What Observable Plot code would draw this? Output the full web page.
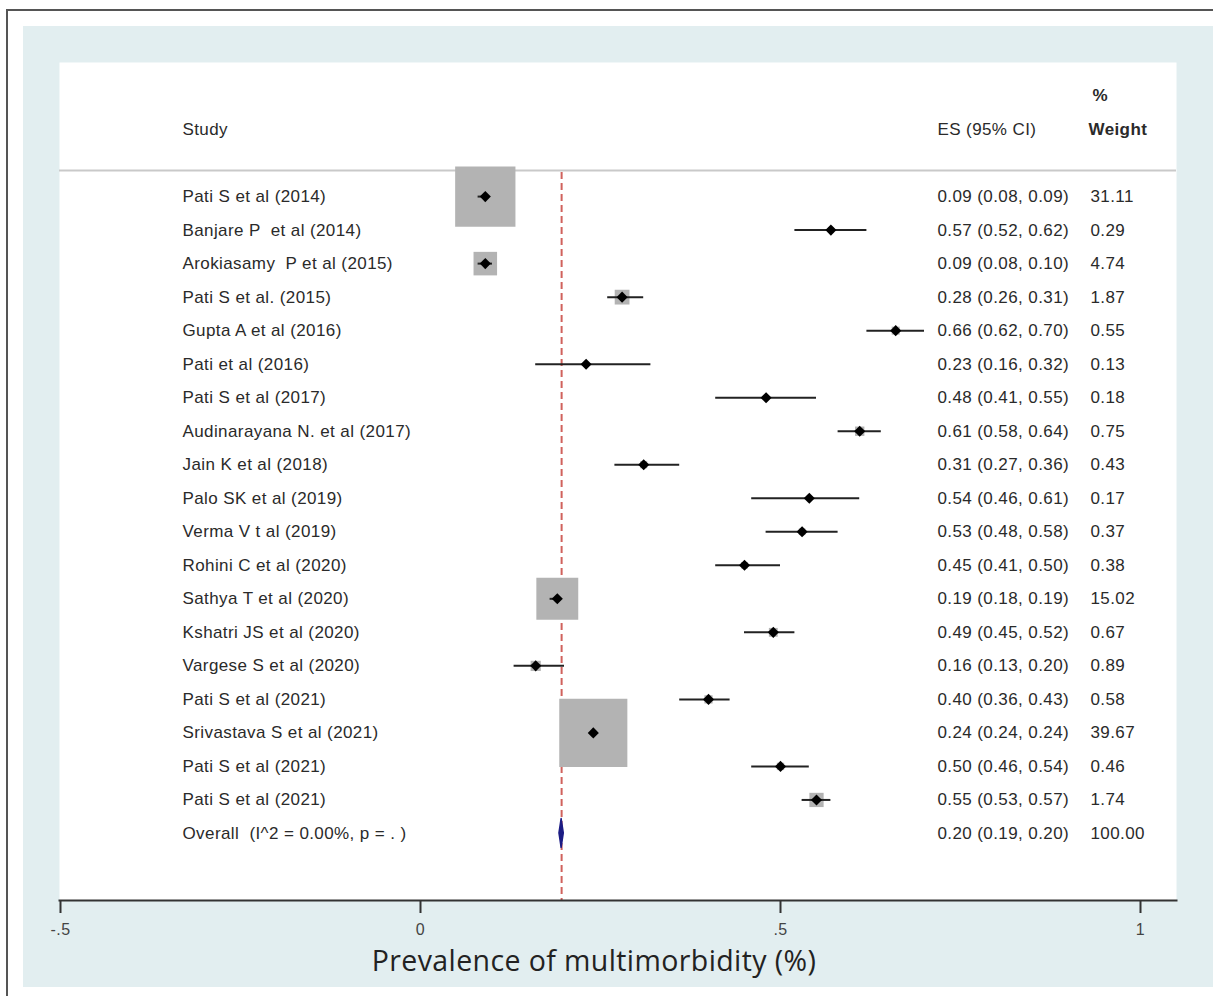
<!DOCTYPE html>
<html><head><meta charset="utf-8">
<script src="https://cdn.jsdelivr.net/npm/d3@7"></script>
<script src="https://cdn.jsdelivr.net/npm/@observablehq/plot@0.6"></script>
<style>
html,body{margin:0;padding:0;background:#fff;}
#wrap{position:relative;width:1213px;height:996px;overflow:hidden;}
#border{position:absolute;left:6px;top:9px;width:1220px;height:1000px;border-left:2px solid #555;border-top:2px solid #555;}
#panel{position:absolute;left:23px;top:26px;width:1190px;height:961px;background:#e2eef0;}
#chart{position:absolute;left:0;top:0;}
</style></head><body>
<div id="wrap"><div id="border"></div><div id="panel"></div><div id="chart"></div></div>
<script>
// ---- data ----
const studies = ["Pati S et al (2014)", "Banjare P  et al (2014)", "Arokiasamy  P et al (2015)", "Pati S et al. (2015)",
  "Gupta A et al (2016)", "Pati et al (2016)", "Pati S et al (2017)", "Audinarayana N. et al (2017)",
  "Jain K et al (2018)", "Palo SK et al (2019)", "Verma V t al (2019)", "Rohini C et al (2020)",
  "Sathya T et al (2020)", "Kshatri JS et al (2020)", "Vargese S et al (2020)", "Pati S et al (2021)",
  "Srivastava S et al (2021)", "Pati S et al (2021)", "Pati S et al (2021)"];
const es = [0.09, 0.57, 0.09, 0.28, 0.66, 0.23, 0.48, 0.61, 0.31, 0.54, 0.53, 0.45, 0.19, 0.49, 0.16, 0.40, 0.24, 0.50, 0.55];
const lo = [0.08, 0.52, 0.08, 0.26, 0.62, 0.16, 0.41, 0.58, 0.27, 0.46, 0.48, 0.41, 0.18, 0.45, 0.13, 0.36, 0.24, 0.46, 0.53];
const hi = [0.09, 0.62, 0.10, 0.31, 0.70, 0.32, 0.55, 0.64, 0.36, 0.61, 0.58, 0.50, 0.19, 0.52, 0.20, 0.43, 0.24, 0.54, 0.57];
const weights = [31.11, 0.29, 4.74, 1.87, 0.55, 0.13, 0.18, 0.75, 0.43, 0.17, 0.37, 0.38, 15.02, 0.67, 0.89, 0.58, 39.67, 0.46, 1.74];

const overallLabel = "Overall  (I^2 = 0.00%, p = . )";
const overallES = 0.196, overallLo = 0.193, overallHi = 0.199;
const overallText = "0.20 (0.19, 0.20)";
const overallWeight = "100.00";

const headers = {study: "Study", es: "ES (95% CI)", pct: "%", weight: "Weight"};
const xTicks = [-0.5, 0, 0.5, 1];
const xTickLabels = ["-.5", "0", ".5", "1"];
const xTitle = "Prevalence of multimorbidity (%)";

// ---- build ----
const rows = studies.map((s, i) => ({
  study: s, es: es[i], lo: lo[i], hi: hi[i], w: weights[i], row: i,
  esText: `${es[i].toFixed(2)} (${lo[i].toFixed(2)}, ${hi[i].toFixed(2)})`,
  wText: weights[i].toFixed(2)
}));
const oRow = studies.length;
const overall = [{study: overallLabel, esText: overallText, wText: overallWeight, row: oRow}];
const dH = 0.43;
const diamond = [
  {y: oRow - dH, x1: overallES, x2: overallES},
  {y: oRow, x1: overallLo, x2: overallHi},
  {y: oRow + dH, x1: overallES, x2: overallES}
];
const font = "'Liberation Sans', Arial, sans-serif";
const colStudy = 123, colES = 878, colW = 1031;
const txt = {frameAnchor: "left", textAnchor: "start", fontSize: 17, fill: "#2a2a2a", fontFamily: font};

const chart = Plot.plot({
  width: 1213, height: 996,
  marginLeft: 59, marginRight: 37, marginTop: 62, marginBottom: 96,
  style: {background: "transparent", fontFamily: font, color: "#222", letterSpacing: "0.4px"},
  x: {domain: [-0.5, 1], range: [60, 1140]},
  y: {domain: [-4, 21], range: [62, 900], axis: null},
  r: {type: "sqrt", domain: [0, 100], range: [0, 61]},
  marks: [
    Plot.frame({fill: "white", stroke: null}),
    Plot.ruleY([-0.78], {stroke: "#c9c9c9", strokeWidth: 2}),
    Plot.ruleX([overallES], {y1: () => -0.72, y2: () => 21, stroke: "#d0625c", strokeWidth: 2, strokeDasharray: "7,4"}),
    Plot.dot(rows, {x: "es", y: "row", r: "w", symbol: "square", fill: "#b3b3b3"}),
    Plot.ruleY(rows, {y: "row", x1: "lo", x2: "hi", stroke: "#222", strokeWidth: 2}),
    Plot.dot(rows, {x: "es", y: "row", r: 5, symbol: "diamond2", fill: "#000"}),
    Plot.areaX(diamond, {y: "y", x1: "x1", x2: "x2", fill: "#1c1c84", stroke: "#1c1c84", strokeWidth: 1.5, curve: "linear"}),
    // text columns
    Plot.text(rows, {...txt, y: "row", text: "study", dx: colStudy}),
    Plot.text(rows, {...txt, y: "row", text: "esText", dx: colES}),
    Plot.text(rows, {...txt, y: "row", text: "wText", dx: colW}),
    Plot.text(overall, {...txt, y: "row", text: "study", dx: colStudy}),
    Plot.text(overall, {...txt, y: "row", text: "esText", dx: colES}),
    Plot.text(overall, {...txt, y: "row", text: "wText", dx: colW}),
    // headers
    Plot.text([headers], {...txt, y: () => -2, text: "study", dx: colStudy}),
    Plot.text([headers], {...txt, y: () => -2, text: "es", dx: colES}),
    Plot.text([headers], {...txt, y: () => -2, text: "weight", dx: colW - 2, fontWeight: "bold"}),
    Plot.text([headers], {...txt, y: () => -3, text: "pct", dx: colW + 2, fontWeight: "bold"}),
    // axis
    Plot.frame({anchor: "bottom", stroke: "#333", strokeWidth: 2}),
    Plot.axisX({ticks: xTicks, tickFormat: (d) => xTickLabels[xTicks.indexOf(d)], tickSize: 13, tickPadding: 10,
      fontSize: 16, stroke: "#333", strokeWidth: 2, fill: "#444", label: null}),
    Plot.text([xTitle], {frameAnchor: "bottom", dx: -24, dy: 70, fontSize: 28.5, fontFamily: "'Open Sans', sans-serif", fill: "#222", text: (d) => d})
  ]
});
d3.select(chart).selectAll("text")
  .filter(function () { return xTickLabels.includes(this.textContent); })
  .style("font-size", "16px");
document.getElementById("chart").appendChild(chart);
</script>
</body></html>
